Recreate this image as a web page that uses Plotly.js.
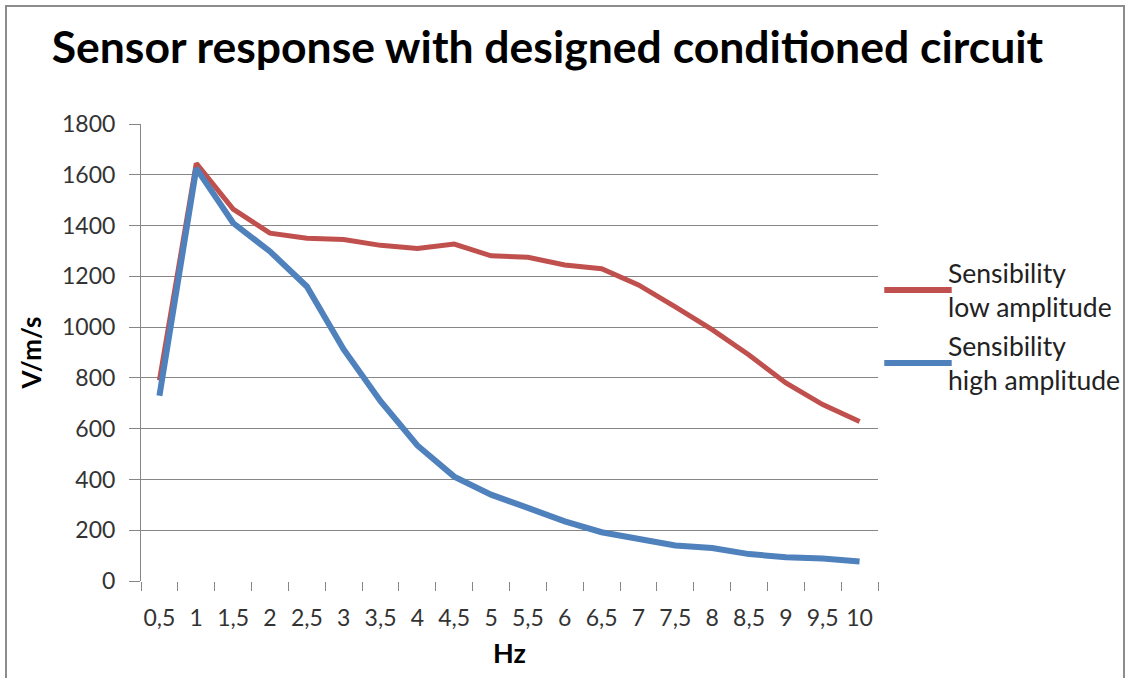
<!DOCTYPE html>
<html>
<head>
<meta charset="utf-8">
<script src="https://cdn.plot.ly/plotly-3.0.1.min.js"></script>
<style>
  html, body { margin: 0; padding: 0; background: #ffffff; }
  #frame {
    position: absolute; left: 5px; top: 5px; width: 1120px; height: 690px;
    border: 2px solid #8c8c8c; box-sizing: border-box;
  }
  #chart { position: absolute; left: 0; top: 0; width: 1131px; height: 678px; }
</style>
</head>
<body>
<div id="frame"></div>
<div id="chart"></div>
<script>
// Frequency categories (Hz) as shown on the axis
const frequencies = ["0,5", "1", "1,5", "2", "2,5", "3", "3,5", "4", "4,5", "5",
                     "5,5", "6", "6,5", "7", "7,5", "8", "8,5", "9", "9,5", "10"];

// Sensitivity (V/m/s) for the low-amplitude excitation
const lowAmplitude = [790, 1645, 1465, 1370, 1350, 1345, 1322, 1310, 1327, 1281,
                      1275, 1245, 1230, 1166, 1080, 990, 890, 780, 695, 628];

// Sensitivity (V/m/s) for the high-amplitude excitation
const highAmplitude = [730, 1625, 1410, 1298, 1160, 912, 708, 534, 411, 340,
                       288, 235, 192, 165, 140, 130, 106, 94, 89, 77];

const seriesNames = ["Sensibility<br>low amplitude", "Sensibility<br>high amplitude"];
const seriesColors = ["#C0504D", "#4F81BD"];

const yTicks = [0, 200, 400, 600, 800, 1000, 1200, 1400, 1600, 1800];

const FONT = "Lato, 'Open Sans', sans-serif";

const traces = [
  {
    x: frequencies, y: lowAmplitude, type: "scatter", mode: "lines",
    name: seriesNames[0], line: { color: seriesColors[0], width: 5 }
  },
  {
    x: frequencies, y: highAmplitude, type: "scatter", mode: "lines",
    name: seriesNames[1], line: { color: seriesColors[1], width: 6 }
  }
];

// Hand-built legend to the right of the plot: a long line sample centred on a two-line label
const legendRows = [0.637, 0.477];
const shapes = [];
const annotations = [];
seriesNames.forEach((name, i) => {
  shapes.push({
    type: "line", xref: "paper", yref: "paper",
    x0: 1.0085, x1: 1.1, y0: legendRows[i], y1: legendRows[i],
    line: { color: seriesColors[i], width: 6 }
  });
  annotations.push({
    xref: "paper", yref: "paper", x: 1.092, y: legendRows[i],
    xanchor: "left", yanchor: "middle", align: "left", showarrow: false,
    text: name,
    font: { family: FONT, size: 26.5, color: "#222222" }
  });
});

const layout = {
  width: 1131, height: 678,
  margin: { l: 141, r: 253, t: 124, b: 97 },
  paper_bgcolor: "rgba(0,0,0,0)",
  plot_bgcolor: "rgba(0,0,0,0)",
  showlegend: false,
  title: {
    text: "<b>Sensor response with designed conditioned circuit</b>",
    font: { family: FONT, size: 44.5, color: "#000000" },
    xref: "container", yref: "container",
    x: 0.484, xanchor: "center", y: 0.93, yanchor: "middle"
  },
  xaxis: {
    type: "category",
    range: [-0.5, frequencies.length - 0.5],
    tickson: "boundaries",
    tickangle: 0,
    ticks: "outside", ticklen: 9, tickcolor: "#868686", tickwidth: 1,
    ticklabelstandoff: 21,
    showline: false, showgrid: false, zeroline: false,
    tickfont: { family: FONT, size: 23, color: "#333333" },
    title: {
      text: "<b>Hz</b>",
      font: { family: FONT, size: 27, color: "#000000" },
      standoff: 14
    },
    fixedrange: true
  },
  yaxis: {
    range: [0, 1800],
    tickvals: yTicks,
    ticks: "outside", ticklen: 11, tickcolor: "#868686", tickwidth: 1,
    ticklabelstandoff: 9,
    showline: true, linecolor: "#868686", linewidth: 1,
    showgrid: true, gridcolor: "#868686", gridwidth: 1,
    zeroline: false,
    tickfont: { family: FONT, size: 23, color: "#333333" },
    title: {
      text: "<b>V/m/s</b>",
      font: { family: FONT, size: 26, color: "#000000" },
      standoff: 12
    },
    fixedrange: true
  },
  shapes: shapes,
  annotations: annotations
};

Plotly.newPlot("chart", traces, layout, { displayModeBar: false, staticPlot: true });
</script>
</body>
</html>
